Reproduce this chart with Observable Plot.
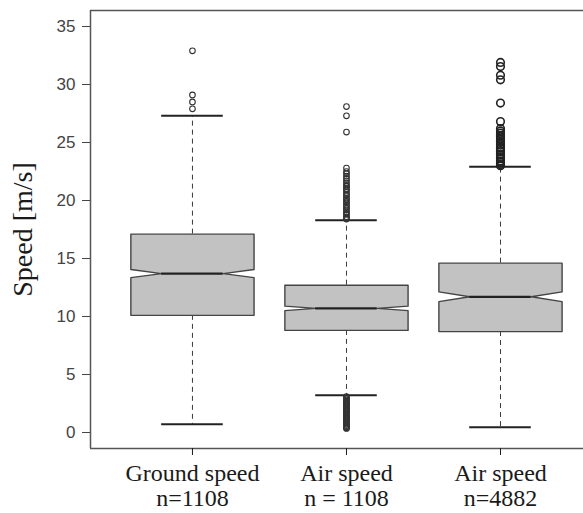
<!DOCTYPE html>
<html><head><meta charset="utf-8">
<script src="https://cdn.jsdelivr.net/npm/d3@7"></script>
<script src="https://cdn.jsdelivr.net/npm/@observablehq/plot@0.6"></script>
<style>body{margin:0;background:#fff}</style>
</head><body><div id="chart"></div>
<script>
// ---- data ----
const categories = ["Ground speed\nn=1108", "Air speed\nn = 1108", "Air speed\nn=4882"];
const positions = [1, 2, 3];
const q1 = [10.1, 8.8, 8.7];
const median = [13.7, 10.7, 11.7];
const q3 = [17.1, 12.7, 14.6];
const whiskerLow = [0.7, 3.2, 0.45];
const whiskerHigh = [27.3, 18.3, 22.9];
const notchHalf = [0.35, 0.19, 0.42];
const outliersGround = [27.9, 28.5, 29.1, 32.9];
const outliersAir1 = [
  0.35, 0.4, 0.5, 0.6, 0.7, 0.8, 0.9, 1.0, 1.1, 1.2, 1.3, 1.4, 1.5, 1.6, 1.7, 1.8, 1.9, 2.0,
  2.1, 2.2, 2.3, 2.4, 2.5, 2.6, 2.7, 2.8, 2.9, 3.0, 3.1,
  18.4, 18.5, 18.6, 18.8, 18.9, 19.0, 19.2, 19.3, 19.5, 19.6, 19.8, 19.9, 20.1, 20.2, 20.4,
  20.5, 20.7, 20.9, 21.0, 21.2, 21.3, 21.5, 21.7, 21.9, 22.1, 22.3, 22.5, 22.8,
  25.9, 27.3, 28.1
];
const outliersAir2 = [
  23.0, 23.1, 23.3, 23.4, 23.6, 23.7, 23.9, 24.0, 24.2, 24.3, 24.5, 24.6, 24.8, 25.0, 25.1,
  25.3, 25.5, 25.6, 25.8, 26.0, 26.2, 26.8, 28.4, 30.4, 30.8, 31.55, 31.9
];
const yTicks = [0, 5, 10, 15, 20, 25, 30, 35];
const yLabel = "Speed [m/s]";

// ---- build tables ----
const xDomain = [0.338, 3.539];
const yDomain = [-1.38, 36.38];
const boxW = 0.4, notchW = 0.2, capW = 0.2;
const boxes = positions.map((p, i) => ({
  pos: p, q1: q1[i], med: median[i], q3: q3[i],
  lo: whiskerLow[i], hi: whiskerHigh[i], nh: notchHalf[i]
}));
const poly = boxes.flatMap(b => [
  [b.pos - boxW, b.q1], [b.pos - boxW, b.med - b.nh], [b.pos - notchW, b.med],
  [b.pos - boxW, b.med + b.nh], [b.pos - boxW, b.q3], [b.pos + boxW, b.q3],
  [b.pos + boxW, b.med + b.nh], [b.pos + notchW, b.med], [b.pos + boxW, b.med - b.nh],
  [b.pos + boxW, b.q1]
].map(([x, y]) => ({box: b.pos, x, y})));
const outSmall = [
  ...outliersGround.map(v => ({pos: positions[0], v})),
  ...outliersAir1.map(v => ({pos: positions[1], v}))
];
const outLarge = outliersAir2.map(v => ({pos: positions[2], v}));

const ink = "#3a3a3a";
const chart = Plot.plot({
  width: 583, height: 513,
  marginLeft: 90, marginRight: 0, marginTop: 10, marginBottom: 65,
  x: {type: "linear", domain: xDomain, axis: null},
  y: {domain: yDomain, axis: null},
  style: {background: "#fff"},
  marks: [
    // whiskers
    Plot.ruleX(boxes, {x: "pos", y1: "q3", y2: "hi", stroke: ink, strokeWidth: 1, strokeDasharray: "5,4"}),
    Plot.ruleX(boxes, {x: "pos", y1: "q1", y2: "lo", stroke: ink, strokeWidth: 1, strokeDasharray: "5,4"}),
    Plot.ruleY(boxes, {y: "hi", x1: d => d.pos - capW, x2: d => d.pos + capW, stroke: "#222", strokeWidth: 2}),
    Plot.ruleY(boxes, {y: "lo", x1: d => d.pos - capW, x2: d => d.pos + capW, stroke: "#222", strokeWidth: 2}),
    // boxes
    Plot.line(poly, {x: "x", y: "y", z: "box", curve: "linear-closed", fill: "#c2c2c2", stroke: "#444", strokeWidth: 1.4}),
    Plot.ruleY(boxes, {y: "med", x1: d => d.pos - notchW, x2: d => d.pos + notchW, stroke: "#222", strokeWidth: 2.2}),
    // outliers
    Plot.dot(outSmall, {x: "pos", y: "v", r: 2.8, stroke: "#333", strokeWidth: 1.1, fill: "none"}),
    Plot.dot(outLarge, {x: "pos", y: "v", r: 3.8, stroke: "#222", strokeWidth: 1.6, fill: "none"}),
    // frame (left, top, bottom)
    Plot.ruleX([xDomain[0]], {stroke: "#555", strokeWidth: 1.5}),
    Plot.ruleY([yDomain[0]], {stroke: "#555", strokeWidth: 1.5}),
    Plot.ruleY([yDomain[1]], {stroke: "#555", strokeWidth: 1.5}),
    // axes
    Plot.axisY(yTicks, {tickSize: 8, tickPadding: 7, fontSize: 17, fontFamily: "Liberation Sans, Arial, sans-serif", color: "#444", label: null}),
    Plot.axisX(positions, {tickSize: 7, tickPadding: 8, tickFormat: p => categories[p - 1], fontSize: 24, lineHeight: 1.04, fontFamily: "Liberation Serif, serif", color: "#1a1a1a", label: null}),
    Plot.text([yLabel], {frameAnchor: "left", textAnchor: "middle", dx: -67, rotate: -90, fontSize: 28, fontFamily: "Liberation Serif, serif", fill: "#1a1a1a"})
  ]
});
document.getElementById("chart").appendChild(chart);
</script>
</body></html>
